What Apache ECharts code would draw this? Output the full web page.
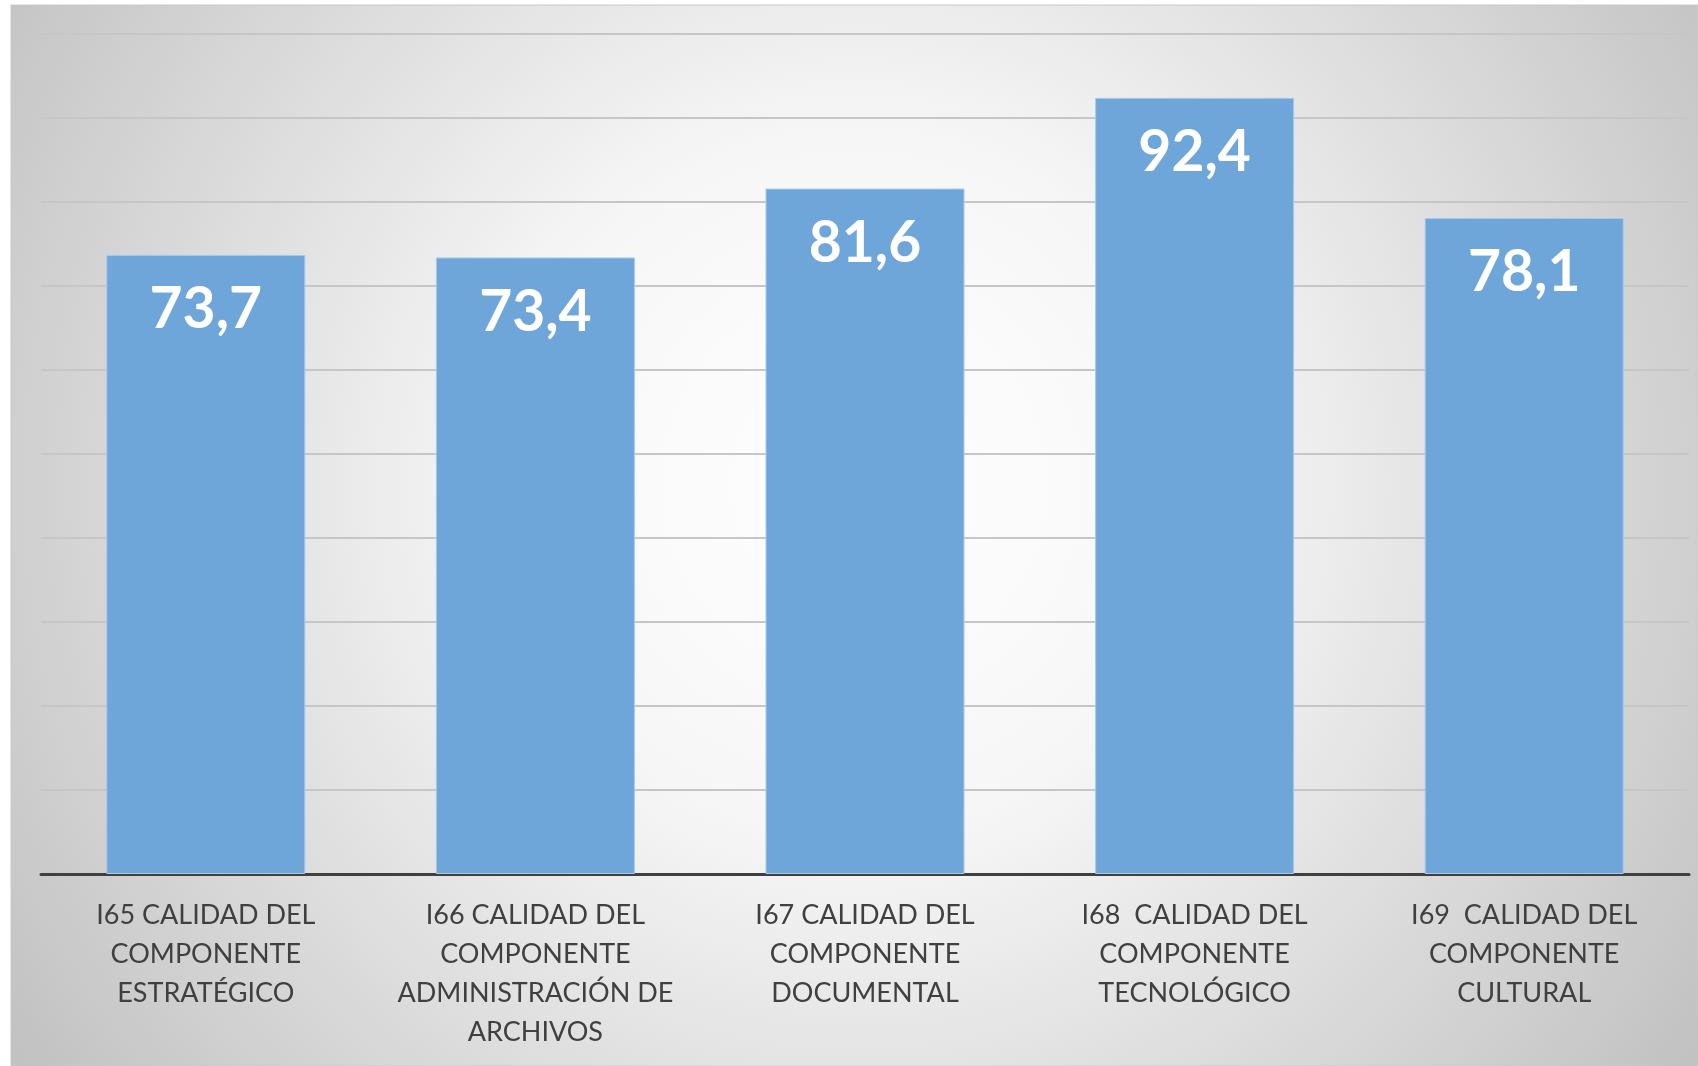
<!DOCTYPE html>
<html>
<head>
<meta charset="utf-8">
<script src="https://cdn.jsdelivr.net/npm/echarts@6/dist/echarts.min.js"></script>
<style>
html,body{margin:0;padding:0;background:#fff;}
#chart{width:1698px;height:1066px;}
</style>
</head>
<body>
<div id="chart"></div>
<script>
const categories = [
  "I65 CALIDAD DEL\nCOMPONENTE\nESTRATÉGICO",
  "I66 CALIDAD DEL\nCOMPONENTE\nADMINISTRACIÓN DE\nARCHIVOS",
  "I67 CALIDAD DEL\nCOMPONENTE\nDOCUMENTAL",
  "I68  CALIDAD DEL\nCOMPONENTE\nTECNOLÓGICO",
  "I69  CALIDAD DEL\nCOMPONENTE\nCULTURAL"
];
const values = [73.7, 73.4, 81.6, 92.4, 78.1];
const yMin = 0, yMax = 100, yInterval = 10;

const chart = echarts.init(document.getElementById('chart'));
chart.setOption({
  animation: false,
  graphic: [{
    type: 'rect',
    z: -10,
    silent: true,
    shape: { x: 11, y: 5, width: 1687, height: 1061 },
    style: {
      fill: new echarts.graphic.RadialGradient(0.5, 0.45, 0.95, [
        { offset: 0, color: '#ffffff' },
        { offset: 0.35, color: '#f6f6f6' },
        { offset: 1, color: '#c2c2c2' }
      ]),
      stroke: '#c8c8c8',
      lineWidth: 1
    }
  }],
  grid: { left: 41, right: 9, top: 34, bottom: 192, containLabel: false },
  xAxis: {
    type: 'category',
    data: categories,
    axisTick: { show: false },
    axisLine: { lineStyle: { color: '#404040', width: 3 } },
    axisLabel: {
      interval: 0,
      color: '#404040',
      fontFamily: 'Lato, "Open Sans", sans-serif',
      fontSize: 27,
      lineHeight: 39,
      margin: 22,
      align: 'center'
    }
  },
  yAxis: {
    type: 'value',
    min: yMin, max: yMax, interval: yInterval,
    axisLabel: { show: false },
    axisLine: { show: false },
    axisTick: { show: false },
    splitLine: { lineStyle: { color: '#c6c6c6', width: 2 } }
  },
  series: [{
    type: 'bar',
    data: values,
    barWidth: 199,
    itemStyle: { color: '#6fa6d9', borderColor: '#a9c9ea', borderWidth: 1 },
    label: {
      show: true,
      position: 'insideTop',
      distance: 26,
      color: '#ffffff',
      fontWeight: 'bold',
      fontFamily: 'Lato, "Open Sans", sans-serif',
      fontSize: 57,
      lineHeight: 58,
      formatter: p => String(p.value.toFixed(1)).replace('.', ',')
    }
  }]
});
</script>
</body>
</html>
